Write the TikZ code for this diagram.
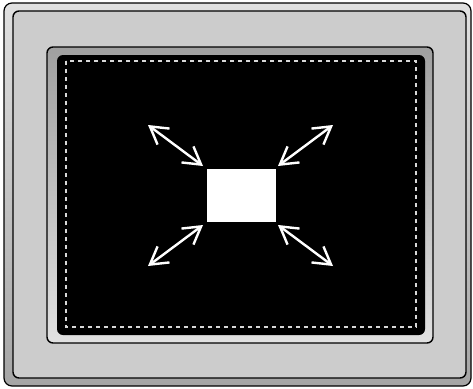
\documentclass[tikz,border=0pt]{standalone}
\usetikzlibrary{arrows.meta}
\definecolor{panel}{RGB}{204,204,204}
\definecolor{rimtop}{RGB}{225,225,225}
\definecolor{rimbot}{RGB}{165,165,165}
\definecolor{beztop}{RGB}{160,160,160}
\definecolor{bezbot}{RGB}{225,225,225}
\definecolor{dashc}{RGB}{215,215,215}
\tikzset{
  frameline/.style={draw=black, line width=1.4pt},
  dblarrow/.style={draw=white, line width=2.4pt, {Straight Barb[length=17pt,width=20pt]}-{Straight Barb[length=17pt,width=20pt]}},
}
\begin{document}
\begin{tikzpicture}[x=1pt,y=-1pt]
\useasboundingbox (0,0) rectangle (473,388);
% outer rim
\shade[top color=rimtop, bottom color=rimbot, draw=black, line width=1.2pt, rounded corners=8pt] (4,3) rectangle (471,386);
% panel
\fill[panel, rounded corners=6pt] (13,11) rectangle (466,378);
\draw[frameline, rounded corners=6pt] (13,11) rectangle (466,378);
% bezel
\shade[top color=beztop, bottom color=bezbot, rounded corners=6pt] (47,47) rectangle (433,343);
\draw[frameline, rounded corners=6pt] (47,47) rectangle (433,343);
% screen
\fill[black, rounded corners=6pt] (57,55) rectangle (425,335);
\draw[dashc, line width=1.4pt, dash pattern=on 4pt off 4pt] (66,61) rectangle (416,327);
% center box
\node[fill=white, draw=none, minimum width=69pt, minimum height=53pt, inner sep=0pt] (box) at (241.5,195.5) {};
\coordinate (tl) at (148,125);
\coordinate (tr) at (333,125);
\coordinate (bl) at (148,266);
\coordinate (br) at (333,266);
\coordinate (tli) at (203,166);
\coordinate (tri) at (278,166);
\coordinate (bli) at (203,225);
\coordinate (bri) at (278,225);
\draw[dblarrow] (tl) -- (tli);
\draw[dblarrow] (tr) -- (tri);
\draw[dblarrow] (bl) -- (bli);
\draw[dblarrow] (br) -- (bri);
\end{tikzpicture}
\end{document}
